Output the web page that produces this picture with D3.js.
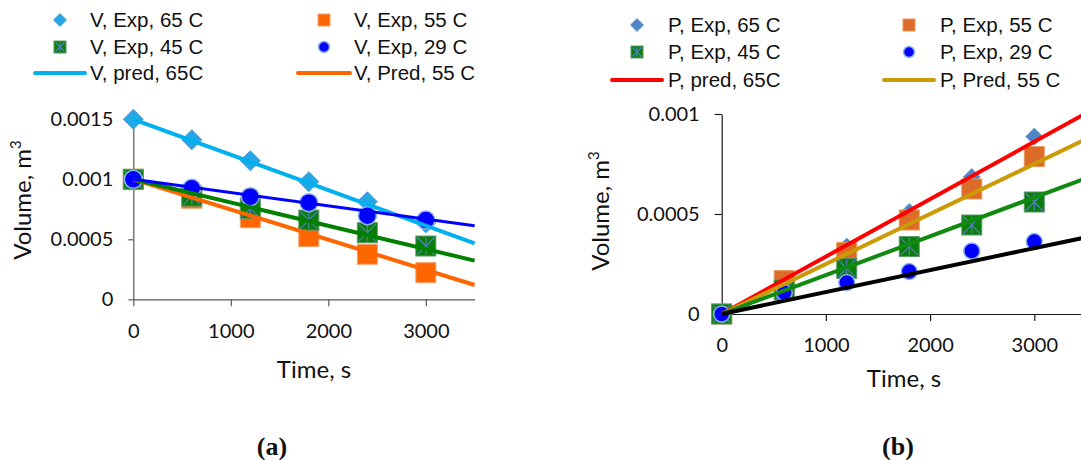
<!DOCTYPE html>
<html>
<head>
<meta charset="utf-8">
<script src="https://cdn.jsdelivr.net/npm/d3@7"></script>
<style>
  html, body { margin: 0; padding: 0; background: #fff; }
  svg { display: block; }
</style>
</head>
<body>
<svg id="chart" width="1081" height="460"></svg>
<script>
// Sampling times of the experiments (s)
const times = [0, 600, 1200, 1800, 2400, 3000];
// Time span of the predicted (model) lines (s)
const predTimes = [0, 3500];

// (a) Volume V, experimental (m^3)
const vExp65 = [0.0015, 0.00133, 0.001155, 0.00098, 0.000813, 0.000636];
const vExp55 = [0.001, 0.000842, 0.00068, 0.000522, 0.000375, 0.000222];
const vExp45 = [0.001, 0.00086, 0.000758, 0.00066, 0.000555, 0.000444];
const vExp29 = [0.001, 0.000925, 0.000855, 0.000805, 0.000697, 0.00066];
// (a) Volume V, predicted (m^3) at predTimes
const vPred65 = [0.0015, 0.000467];
const vPred55 = [0.001, 0.000119];
const vPred45 = [0.001, 0.000322];
const vPred29 = [0.001, 0.000613];

// (b) Volume P, experimental (m^3)
const pExp65 = [0, 0.00017, 0.000337, 0.00051, 0.000685, 0.000887];
const pExp55 = [0, 0.000167, 0.000308, 0.00047, 0.000625, 0.000787];
const pExp45 = [0, 0.00012, 0.000228, 0.000337, 0.000445, 0.00056];
const pExp29 = [0, 0.000107, 0.000157, 0.000212, 0.000315, 0.000362];
// (b) Volume P, predicted (m^3) at predTimes
const pPred65 = [0, 0.001005];
const pPred55 = [0, 0.000875];
const pPred45 = [0, 0.00068];
const pPred29 = [0, 0.000384];

// Axis ticks and labels
const xTicks = [0, 1000, 2000, 3000];
const yTicksA = [0, 0.0005, 0.001, 0.0015];
const yTickLabelsA = ["0", "0.0005", "0.001", "0.0015"];
const yTicksB = [0, 0.0005, 0.001];
const yTickLabelsB = ["0", "0.0005", "0.001"];

// Legend texts
const legendA = ["V, Exp, 65 C", "V, Exp, 55 C", "V, Exp, 45 C", "V, Exp, 29 C", "V, pred, 65C", "V, Pred, 55 C"];
const legendB = ["P, Exp, 65 C", "P, Exp, 55 C", "P, Exp, 45 C", "P, Exp, 29 C", "P, pred, 65C", "P, Pred, 55 C"];
const panelLabels = ["(a)", "(b)"];

const svg = d3.select("#chart");
const TICK_FONT = "Lato, 'Open Sans', sans-serif";
const LEGEND_FONT = "'Liberation Sans', Arial, sans-serif";

// Marker drawing helpers
function drawDiamond(g, x, y, size, fill, stroke) {
  const h = size / 2;
  g.append("path")
    .attr("d", `M${x},${y - h}L${x + h},${y}L${x},${y + h}L${x - h},${y}Z`)
    .attr("fill", fill).attr("stroke", stroke).attr("stroke-width", 1);
}
function drawSquare(g, x, y, size, fill, stroke) {
  g.append("rect")
    .attr("x", x - size / 2).attr("y", y - size / 2)
    .attr("width", size).attr("height", size)
    .attr("fill", fill).attr("stroke", stroke).attr("stroke-width", 1);
}
function drawStarSquare(g, x, y, size) {
  drawSquare(g, x, y, size, "#0a7d0a", "#5a9a6a");
  const h = size / 2 - 1.5;
  g.append("path")
    .attr("d", `M${x - h},${y - h}L${x + h},${y + h}M${x + h},${y - h}L${x - h},${y + h}M${x},${y - h}L${x},${y + h}`)
    .attr("stroke", "#4f7fc0").attr("stroke-width", 1.2).attr("fill", "none");
}
function drawCircle(g, x, y, size, fill, stroke) {
  g.append("circle").attr("cx", x).attr("cy", y).attr("r", size / 2)
    .attr("fill", fill).attr("stroke", stroke).attr("stroke-width", 1.5);
}

function drawPanel(cfg) {
  const x = d3.scaleLinear().domain([0, 3500]).range(cfg.xRange);
  const y = d3.scaleLinear().domain(cfg.yDomain).range(cfg.yRange);
  const g = svg.append("g");

  // Axes
  const yAxis = d3.axisLeft(y).tickValues(cfg.yTicks)
    .tickFormat((d, i) => cfg.yTickLabels[i]).tickSize(cfg.yTickSize).tickSizeOuter(0).tickPadding(cfg.yTickPad);
  const xAxis = d3.axisBottom(x).tickValues(xTicks)
    .tickFormat(d3.format("d")).tickSize(7).tickSizeOuter(0).tickPadding(cfg.xTickPad);

  const ya = g.append("g").attr("transform", `translate(${x(0)},0)`).call(yAxis);
  const xa = g.append("g").attr("transform", `translate(0,${y(0)})`).call(xAxis);
  [ya, xa].forEach(a => {
    a.select(".domain").attr("stroke", cfg.axisColor).attr("stroke-width", 1.2);
    a.selectAll(".tick line").attr("stroke", cfg.axisColor).attr("stroke-width", 1.2);
    a.selectAll(".tick text").attr("font-family", TICK_FONT).attr("font-size", 20).attr("fill", "#111");
  });

  // Axis titles
  g.append("text").attr("x", cfg.xTitle[0]).attr("y", cfg.xTitle[1])
    .attr("text-anchor", "middle").attr("font-family", TICK_FONT).attr("font-size", 24).attr("fill", "#111")
    .text("Time, s");
  const yt = g.append("text")
    .attr("transform", `translate(${cfg.yTitle[0]},${cfg.yTitle[1]}) rotate(-90)`)
    .attr("text-anchor", "middle").attr("font-family", TICK_FONT).attr("font-size", 24).attr("fill", "#111");
  yt.append("tspan").text("Volume, m");
  yt.append("tspan").attr("font-size", 15).attr("dy", -10).text("3");

  // Experimental markers
  const m = cfg.markers;
  times.forEach((t, i) => drawDiamond(g, x(t), y(cfg.exp[0][i]), m.diamond, cfg.c.diamond, cfg.c.diamondStroke));
  times.forEach((t, i) => drawSquare(g, x(t), y(cfg.exp[1][i]), m.square, cfg.c.square, cfg.c.squareStroke));
  times.forEach((t, i) => drawStarSquare(g, x(t), y(cfg.exp[2][i]), m.square));
  times.forEach((t, i) => drawCircle(g, x(t), y(cfg.exp[3][i]), m.circle, "#0000ff", "#8fb4e8"));

  // Predicted lines
  const line = d3.line().x((d, i) => x(predTimes[i])).y(d => y(d));
  cfg.pred.forEach((p, k) => {
    g.append("path").datum(p).attr("d", line)
      .attr("fill", "none").attr("stroke", cfg.predColors[k]).attr("stroke-width", cfg.predWidths[k]);
  });

  // Legend
  const L = cfg.legend;
  const lg = svg.append("g").attr("font-family", LEGEND_FONT).attr("font-size", 20.5).attr("fill", "#111");
  const items = [
    { col: 0, row: 0, kind: "diamond" }, { col: 1, row: 0, kind: "square" },
    { col: 0, row: 1, kind: "star" }, { col: 1, row: 1, kind: "circle" },
    { col: 0, row: 2, kind: "line", color: cfg.predColors[0] }, { col: 1, row: 2, kind: "line", color: cfg.predColors[1] }
  ];
  items.forEach((it, i) => {
    const cy = L.rows[it.row];
    const mx = L.markerX[it.col];
    if (it.kind === "diamond") drawDiamond(lg, mx, cy, 13, cfg.c.diamond, cfg.c.diamondStroke);
    if (it.kind === "square") drawSquare(lg, mx, cy, 12, cfg.c.square, cfg.c.squareStroke);
    if (it.kind === "star") drawStarSquare(lg, mx, cy, 12);
    if (it.kind === "circle") drawCircle(lg, mx, cy, 11, "#0000ff", "#8fb4e8");
    if (it.kind === "line") {
      lg.append("line").attr("x1", L.lineX[it.col][0]).attr("x2", L.lineX[it.col][1])
        .attr("y1", cy).attr("y2", cy).attr("stroke", it.color).attr("stroke-width", 4)
        .attr("stroke-linecap", "round");
    }
    lg.append("text").attr("x", L.textX[it.col]).attr("y", cy + 7).text(cfg.legendText[i]);
  });

  // Panel label
  svg.append("text").attr("x", cfg.label[0]).attr("y", cfg.label[1]).attr("text-anchor", "middle")
    .attr("font-family", "'Liberation Serif', 'Times New Roman', serif").attr("font-weight", "bold")
    .attr("font-size", 26).attr("fill", "#111").text(cfg.labelText);
}

drawPanel({
  xRange: [133.3, 474.6], yDomain: [0, 0.0015], yRange: [299.3, 119.3],
  yTicks: yTicksA, yTickLabels: yTickLabelsA, yTickSize: 5, yTickPad: 15, xTickPad: 18,
  axisColor: "#595959",
  xTitle: [314, 378], yTitle: [31, 200],
  exp: [vExp65, vExp55, vExp45, vExp29],
  pred: [vPred65, vPred55, vPred45, vPred29],
  predColors: ["#00b0f0", "#ff6600", "#008000", "#0000ff"],
  predWidths: [4, 4, 4, 3],
  c: { diamond: "#22a8e4", diamondStroke: "#5b9bd5", square: "#ff6600", squareStroke: "#f2a46e" },
  markers: { diamond: 20, square: 20, circle: 18 },
  legend: { rows: [20, 47, 73], markerX: [60, 324], textX: [90, 354], lineX: [[35, 85], [298, 350]] },
  legendText: legendA,
  label: [272, 455], labelText: panelLabels[0]
});

drawPanel({
  xRange: [721.7, 1086.4], yDomain: [0, 0.001], yRange: [314, 114],
  yTicks: yTicksB, yTickLabels: yTickLabelsB, yTickSize: 7, yTickPad: 15, xTickPad: 17,
  axisColor: "#1a1a1a",
  xTitle: [904, 387], yTitle: [609, 211],
  exp: [pExp65, pExp55, pExp45, pExp29],
  pred: [pPred65, pPred55, pPred45, pPred29],
  predColors: ["#ff0000", "#cc9a06", "#108a10", "#000000"],
  predWidths: [4, 4, 4, 4],
  c: { diamond: "#4f86c6", diamondStroke: "#6f9bd0", square: "#de6a28", squareStroke: "#e8995f" },
  markers: { diamond: 17, square: 20, circle: 16 },
  legend: { rows: [25, 52, 80], markerX: [637, 909], textX: [668, 940], lineX: [[612, 662], [884, 934]] },
  legendText: legendB,
  label: [898, 455], labelText: panelLabels[1]
});
</script>
</body>
</html>
